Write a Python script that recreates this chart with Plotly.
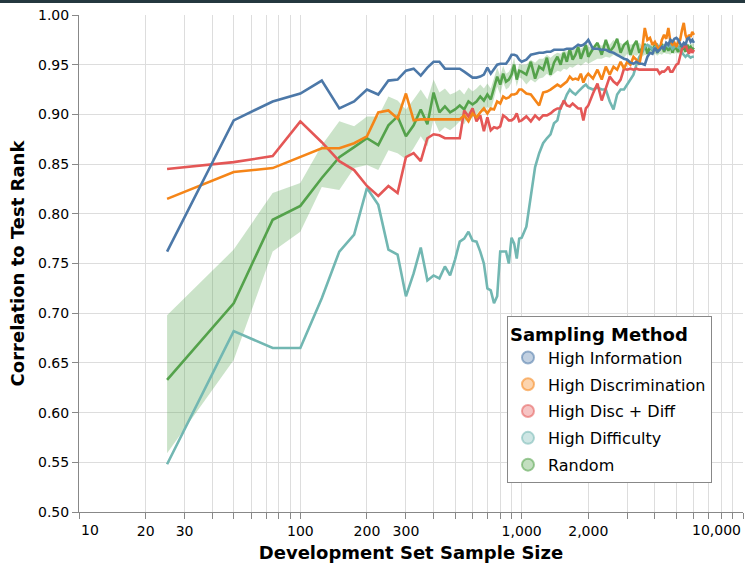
import plotly.graph_objects as go

# ---------------- data ----------------
sample_size = [
    25, 50, 75, 100, 125, 150, 175, 200, 225, 250, 275, 300, 325, 350, 375, 400, 425, 450, 475, 500,
    525, 550, 575, 600, 625, 650, 675, 700, 725, 750, 775, 800, 825, 850, 875, 900, 925, 950, 975, 1000,
    1050, 1100, 1150, 1200, 1250, 1300, 1350, 1400, 1450, 1500, 1550, 1600, 1650, 1700, 1750, 1800, 1850, 1900, 1950, 2000,
    2100, 2200, 2300, 2400, 2500, 2600, 2700, 2800, 2900, 3000, 3100, 3200, 3300, 3400, 3500, 3600, 3700, 3800, 3900, 4000,
    4100, 4200, 4300, 4400, 4500, 4600, 4700, 4800, 4900, 5000, 5100, 5200, 5300, 5400, 5500, 5600, 5700, 5800, 5900, 6000,
]

high_information = [
    .762, .894, .913, .921, .934, .906, .913, .925, .920, .934, .935, .944, .946, .939, .947, .953, .953, .946, .946, .946,
    .946, .943, .940, .937, .937, .938, .940, .947, .941, .946, .950, .951, .951, .951, .955, .960, .960, .959, .955, .953,
    .955, .960, .961, .962, .962, .963, .963, .965, .965, .965, .965, .966, .966, .966, .968, .970, .969, .970, .972, .975,
    .966, .966, .965, .965, .963, .962, .960, .958, .956, .955, .952, .951, .953, .951, .951, .950, .958, .962, .961, .967,
    .963, .965, .968, .966, .972, .970, .975, .973, .976, .977, .975, .971, .969, .972, .970, .976, .977, .973, .975, .972,
]

high_discrimination = [
    .815, .842, .846, .857, .866, .866, .871, .878, .902, .904, .896, .921, .894, .895, .895, .895, .895, .895, .895, .895,
    .895, .899, .893, .901, .897, .902, .906, .901, .906, .905, .913, .911, .918, .916, .917, .920, .920, .921, .925, .925,
    .921, .920, .914, .909, .922, .923, .925, .928, .930, .928, .931, .933, .938, .935, .936, .935, .941, .932, .938, .941,
    .936, .945, .935, .948, .940, .948, .945, .953, .946, .953, .950, .958, .955, .950, .965, .987, .975, .977, .970, .973,
    .968, .965, .975, .980, .976, .987, .973, .970, .972, .968, .973, .975, .985, .992, .980, .975, .980, .978, .983, .980,
]

high_disc_diff = [
    .845, .852, .858, .893, .872, .853, .844, .828, .818, .828, .821, .857, .861, .853, .876, .880, .879, .876, .876, .876,
    .876, .904, .898, .906, .893, .899, .883, .897, .884, .887, .886, .888, .899, .897, .894, .894, .896, .901, .893, .894,
    .898, .893, .899, .895, .899, .899, .901, .904, .906, .906, .914, .909, .908, .911, .908, .906, .906, .894, .906, .909,
    .921, .931, .914, .926, .938, .933, .930, .935, .946, .945, .946, .945, .946, .945, .945, .945, .945, .945, .945, .945,
    .945, .941, .943, .943, .945, .948, .943, .943, .946, .950, .951, .958, .966, .968, .971, .965, .961, .966, .962, .965,
]

high_difficulty = [
    .548, .682, .665, .665, .715, .762, .779, .826, .809, .764, .759, .717, .740, .766, .733, .738, .735, .747, .738, .754,
    .772, .775, .782, .773, .772, .762, .750, .725, .723, .710, .717, .762, .762, .762, .750, .776, .770, .755, .775, .776,
    .787, .816, .847, .861, .871, .876, .880, .891, .894, .908, .912, .920, .925, .922, .920, .923, .926, .928, .930, .927,
    .925, .927, .925, .925, .913, .905, .920, .925, .925, .930, .935, .940, .950, .958, .962, .968, .970, .968, .965, .968,
    .970, .966, .968, .969, .970, .968, .970, .966, .968, .970, .968, .966, .962, .960, .958, .960, .958, .957, .958, .958,
]

random_mean = [
    .633, .710, .794, .808, .836, .857, .867, .876, .869, .889, .898, .878, .889, .905, .890, .922, .902, .908, .902, .905,
    .909, .905, .913, .910, .913, .918, .914, .920, .915, .926, .938, .930, .941, .933, .935, .940, .950, .935, .944, .943,
    .940, .953, .936, .948, .945, .957, .940, .952, .958, .950, .962, .953, .966, .955, .960, .968, .956, .963, .970, .958,
    .966, .972, .960, .975, .963, .968, .976, .962, .970, .973, .960, .969, .974, .962, .966, .971, .961, .968, .964, .970,
    .962, .967, .971, .963, .969, .964, .970, .962, .968, .966, .963, .969, .965, .968, .963, .970, .966, .968, .965, .967,
]

random_lower = [
    .559, .653, .762, .782, .827, .824, .846, .849, .844, .864, .861, .855, .866, .878, .868, .895, .882, .887, .884, .888,
    .893, .890, .899, .897, .900, .905, .902, .908, .904, .915, .928, .920, .932, .925, .927, .932, .942, .928, .937, .936,
    .930, .935, .932, .936, .937, .941, .938, .941, .944, .943, .946, .945, .948, .947, .949, .951, .949, .951, .953, .951,
    .954, .956, .956, .958, .957, .960, .958, .960, .957, .961, .958, .960, .959, .961, .958, .960, .959, .961, .960, .961,
    .959, .961, .960, .962, .961, .961, .960, .962, .961, .962, .961, .962, .961, .962, .962, .963, .962, .963, .963, .963,
]

random_upper = [
    .698, .764, .821, .831, .869, .893, .888, .898, .898, .918, .914, .905, .915, .925, .915, .935, .922, .926, .920, .922,
    .925, .920, .927, .923, .926, .930, .926, .931, .926, .936, .947, .939, .949, .941, .943, .948, .957, .942, .951, .950,
    .950, .955, .952, .956, .956, .960, .957, .960, .962, .961, .964, .963, .967, .965, .966, .969, .966, .968, .971, .968,
    .968, .971, .969, .973, .970, .975, .970, .972, .969, .973, .970, .971, .970, .972, .969, .970, .969, .971, .969, .970,
    .969, .970, .970, .971, .970, .970, .969, .971, .970, .970, .970, .971, .970, .970, .970, .971, .970, .971, .971, .971,
]

methods = ["High Information", "High Discrimination", "High Disc + Diff", "High Difficulty", "Random"]
series = [high_information, high_discrimination, high_disc_diff, high_difficulty, random_mean]
colors = ["#4c78a8", "#f58518", "#e45756", "#72b7b2", "#54a24b"]
rgb = [(76, 120, 168), (245, 133, 24), (228, 87, 86), (114, 183, 178), (84, 162, 75)]

x_tick_vals = [10, 20, 30, 40, 50, 60, 70, 80, 90,
               100, 200, 300, 400, 500, 600, 700, 800, 900,
               1000, 2000, 3000, 4000, 5000, 6000, 7000, 8000, 9000, 10000]
x_tick_text = ["", "20", "30", "", "", "", "", "", "",
               "100", "200", "300", "", "", "", "", "", "",
               "1,000", "2,000", "", "", "", "", "", "", "", ""]
y_tick_vals = [0.50, 0.55, 0.60, 0.65, 0.70, 0.75, 0.80, 0.85, 0.90, 0.95, 1.00]

FONT = "DejaVu Sans"

fig = go.Figure()

# confidence band for Random
fig.add_trace(go.Scatter(x=sample_size, y=random_upper, mode="lines", line=dict(width=0),
                         hoverinfo="skip", showlegend=False))
fig.add_trace(go.Scatter(x=sample_size, y=random_lower, mode="lines", line=dict(width=0),
                         fill="tonexty", fillcolor="rgba(84,162,75,0.3)",
                         hoverinfo="skip", showlegend=False))

# lines (drawn so that High Information ends on top)
draw_order = [4, 3, 2, 1, 0]
for i in draw_order:
    fig.add_trace(go.Scatter(x=sample_size, y=series[i], mode="lines", name=methods[i],
                             line=dict(color=colors[i], width=2.6), showlegend=False))

# legend entries (circle symbols)
for i, m in enumerate(methods):
    r, g, b = rgb[i]
    fig.add_trace(go.Scatter(x=[None], y=[None], mode="markers", name=m, legendgroup=m,
                             marker=dict(symbol="circle", size=16,
                                         color=f"rgba({r},{g},{b},0.35)",
                                         line=dict(color=f"rgba({r},{g},{b},0.55)", width=1.5))))

fig.update_layout(
    width=745, height=565,
    margin=dict(l=79, r=2, t=15, b=53),
    paper_bgcolor="white", plot_bgcolor="white",
    font=dict(family=FONT, size=14, color="#000"),
    legend=dict(
        title=dict(text="<b>Sampling Method</b>", font=dict(size=18, family=FONT)),
        font=dict(size=16, family=FONT),
        x=0.9533, xanchor="right", y=0.058, yanchor="bottom",
        bgcolor="white", bordercolor="#888", borderwidth=1,
        tracegroupgap=3, itemsizing="constant",
    ),
    xaxis=dict(
        type="log", range=[1, 4],
        tickmode="array", tickvals=x_tick_vals, ticktext=x_tick_text,
        showgrid=True, gridcolor="#ddd", gridwidth=1,
        ticks="outside", ticklen=6, tickcolor="#888", tickwidth=1,
        showline=True, linecolor="#888", linewidth=1, zeroline=False,
        tickfont=dict(size=14, family=FONT, color="#000"),
        title=dict(text="<b>Development Set Sample Size</b>", font=dict(size=18, family=FONT),
                   standoff=8),
    ),
    yaxis=dict(
        range=[0.5, 1.0], tickmode="array", tickvals=y_tick_vals,
        ticktext=[f"{v:.2f}" for v in y_tick_vals],
        showgrid=True, gridcolor="#ddd", gridwidth=1,
        ticks="outside", ticklen=6, tickcolor="#888", tickwidth=1,
        showline=True, linecolor="#888", linewidth=1, zeroline=False,
        tickfont=dict(size=14, family=FONT, color="#000"),
        title=dict(text="<b>Correlation to Test Rank</b>", font=dict(size=18, family=FONT),
                   standoff=8),
    ),
    shapes=[dict(type="rect", xref="paper", yref="paper", x0=-0.2, x1=1.2, y0=1.024, y1=1.06,
                 fillcolor="#24383f", line=dict(width=0), layer="above")],
    annotations=[
        dict(text="10", x=1, y=0, xref="x", yref="paper", xanchor="left", yanchor="top",
             yshift=-8, showarrow=False, font=dict(size=14, family=FONT, color="#000")),
        dict(text="10,000", x=4, y=0, xref="x", yref="paper", xanchor="right", yanchor="top",
             yshift=-8, showarrow=False, font=dict(size=14, family=FONT, color="#000")),
    ],
)

fig.write_html("out.html")
